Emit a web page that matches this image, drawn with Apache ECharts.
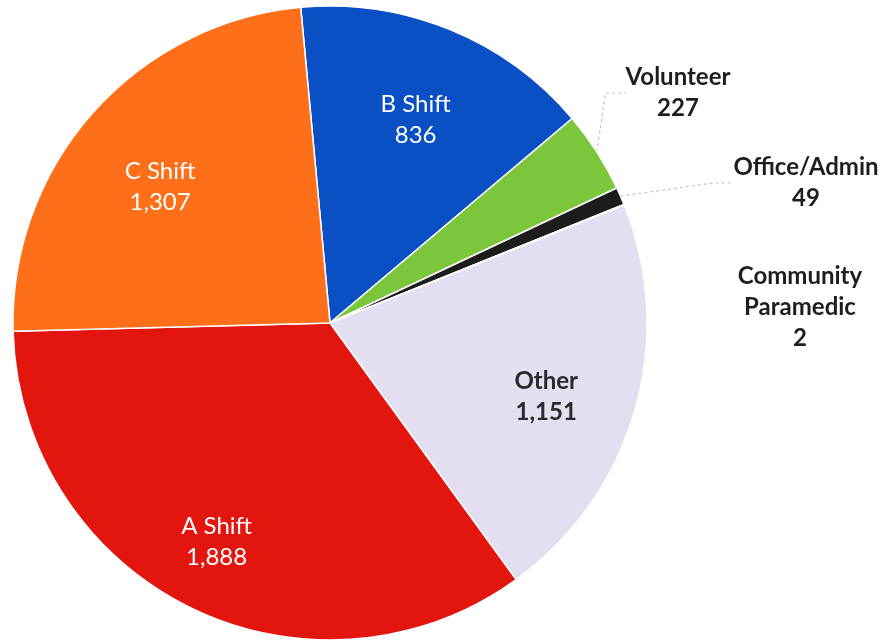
<!DOCTYPE html>
<html>
<head>
<meta charset="utf-8">
<script src="https://cdn.jsdelivr.net/npm/echarts@6/dist/echarts.min.js"></script>
<style>
  html, body { margin: 0; padding: 0; background: #ffffff; }
  #chart { width: 887px; height: 643px; }
</style>
</head>
<body>
<div id="chart"></div>
<script>
// Calls by crew, clockwise from the top
const categories = ['B Shift', 'Volunteer', 'Office/Admin', 'Community Paramedic', 'Other', 'A Shift', 'C Shift'];
const values = [836, 227, 49, 2, 1151, 1888, 1307];

const palette = ['#0a50c4', '#7cc63c', '#1c1c1c', '#9a9a9a', '#e4def1', '#e3150f', '#ff6e18'];
const outsideNames = ['Volunteer', 'Office/Admin', 'Community Paramedic'];
// where the callout labels sit (centre of each text block)
const calloutPos = {
  'Volunteer': [678, 93],
  'Office/Admin': [806, 183],
  'Community Paramedic': [800, 307]
};
// small nudges for the inside labels
const insideOffset = {
  'B Shift': [-2, 11],
  'C Shift': [3, 17],
  'A Shift': [-11, 11],
  'Other': [-6, 10]
};

const CX = 330, CY = 323, R = 317;
const START = 95.3;
const FONT = 'Lato, "Noto Sans", sans-serif';

const fmt = v => v.toLocaleString('en-US');

const chart = echarts.init(document.getElementById('chart'), null, { renderer: 'canvas' });

chart.setOption({
  backgroundColor: '#ffffff',
  animation: false,
  series: [
    {
      // the slices, with callouts for the thin ones
      type: 'pie',
      center: [CX, CY],
      radius: [0, R],
      startAngle: START,
      clockwise: true,
      avoidLabelOverlap: false,
      silent: true,
      itemStyle: { borderColor: '#ffffff', borderWidth: 1.5 },
      data: categories.map((name, i) => {
        const outside = outsideNames.includes(name);
        return {
          name,
          value: values[i],
          itemStyle: { color: palette[i] },
          label: { show: outside },
          labelLine: {
            show: outside && name !== 'Community Paramedic',
            lineStyle: { color: '#c4c4c4', width: 1.2, type: [3, 3] }
          }
        };
      }),
      label: {
        position: 'outside',
        formatter: p => p.name.replace(' ', '\n') + '\n' + fmt(p.value),
        fontFamily: FONT,
        fontSize: 24,
        fontWeight: 'bold',
        color: '#1e1e1e',
        lineHeight: 31,
        align: 'center'
      },
      labelLine: { length: 20, length2: 20 },
      labelLayout: params => {
        const pos = calloutPos[categories[params.dataIndex]];
        if (!pos) return {};
        return { x: pos[0], y: pos[1], align: 'center', verticalAlign: 'middle' };
      }
    },
    {
      // transparent twin whose inside labels land near three quarters of the radius
      type: 'pie',
      center: [CX, CY],
      radius: [0, R * 1.44],
      startAngle: START,
      clockwise: true,
      silent: true,
      z: 3,
      itemStyle: { color: 'rgba(0,0,0,0)', borderWidth: 0 },
      labelLine: { show: false },
      data: categories.map((name, i) => ({
        name,
        value: values[i],
        label: name === 'Other'
          ? { show: true, color: '#2a2a2a', fontWeight: 'bold', offset: insideOffset[name] }
          : { show: !outsideNames.includes(name), offset: insideOffset[name] || [0, 0] }
      })),
      label: {
        position: 'inside',
        formatter: p => p.name + '\n' + fmt(p.value),
        fontFamily: FONT,
        fontSize: 24,
        color: '#ffffff',
        lineHeight: 31,
        align: 'center'
      }
    }
  ]
});
</script>
</body>
</html>
